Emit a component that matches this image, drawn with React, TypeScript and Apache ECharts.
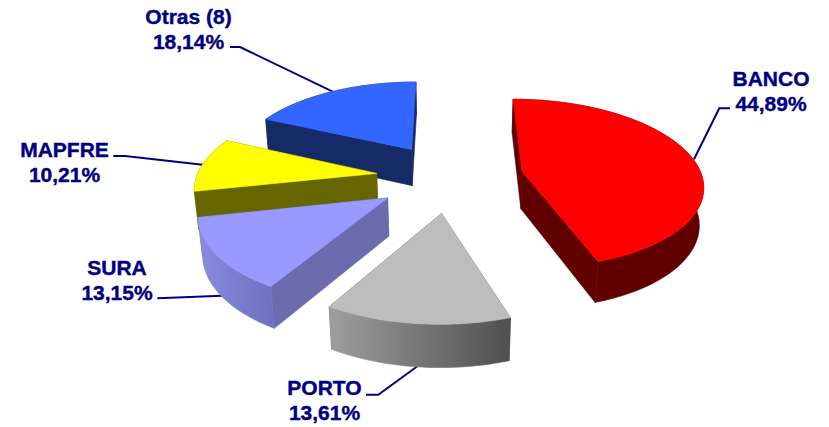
import React, { useEffect, useRef } from "react";
import * as echarts from "echarts";

const categories = ["BANCO", "PORTO", "SURA", "MAPFRE", "Otras (8)"];
const shares = [44.89, 13.61, 13.15, 10.21, 18.14];
const total = shares.reduce((a, b) => a + b, 0);

// Camera and pie solid
const CX = 450.35, CY = 171.62, FOCAL = 1142.49, DIST = 6.4074, PITCH = 0.4803;
const START = -0.0016, DEPTH = 0.2393, OX = -0.0034, OY = -0.066, EXPLODE = 0.411;

const tops = ["#ff0000", "#bdbdbd", "#9999ff", "#ffff00", "#3366ff"];
const cuts = ["#600000", "#666666", "#6b6bad", "#666600", "#152a66"];
const arcsL = ["#600000", "#9e9e9e", "#8a8ae0", "#666600", "#152a66"];
const arcsR = ["#600000", "#4f4f4f", "#7070c0", "#666600", "#152a66"];

const NAVY = "#000080";
const labelAt = [[771, 90.5], [324.5, 400], [117, 279.5], [64.5, 161.5], [188.5, 29]];
const leaders = [
  [[694, 159.3], [719.3, 108.3], [730, 108.3]],
  [[366, 394.7], [378.3, 394.7], [417.7, 366]],
  [[157.3, 298.3], [222, 295.7]],
  [[113.3, 156], [125, 156], [202.7, 164.7]],
  [[230, 47], [240, 47], [332.7, 91.7]],
];

function proj(X: number, Y: number, Z: number) {
  const x = X + OX, y = Y + OY;
  const yc = y * Math.sin(PITCH) + Z * Math.cos(PITCH);
  const zc = DIST + y * Math.cos(PITCH) - Z * Math.sin(PITCH);
  return [CX + (FOCAL * x) / zc, CY - (FOCAL * yc) / zc];
}
function sliceGeom(i: number) {
  let c = 0;
  for (let k = 0; k < i; k++) c += shares[k];
  const a = START + (c / total) * 2 * Math.PI;
  const b = a + (shares[i] / total) * 2 * Math.PI;
  const m = (a + b) / 2;
  return { a, b, ax: EXPLODE * Math.sin(m), ay: EXPLODE * Math.cos(m) };
}
const pct = (v: number) => v.toFixed(2).replace(".", ",") + "%";

export default function App() {
  const ref = useRef<HTMLDivElement>(null);
  useEffect(() => {
    document.body.style.margin = "0";
    const chart = echarts.init(ref.current!, undefined, { renderer: "svg" });
    const paint = (fill: any) => ({ fill, stroke: fill, lineWidth: 0.6 });
    chart.setOption({
      animation: false,
      graphic: [
        ...leaders.map((pts) => ({
          type: "polyline", z: 1, shape: { points: pts },
          style: { stroke: NAVY, lineWidth: 2, fill: "none" },
        })),
        ...categories.map((c, i) => ({
          type: "text", z: 3, x: labelAt[i][0], y: labelAt[i][1],
          style: {
            text: c + "\n" + pct(shares[i]), fill: NAVY, align: "center", verticalAlign: "middle",
            stroke: NAVY, lineWidth: 0.4,
            font: 'bold 21px "Liberation Sans", Arial, sans-serif', lineHeight: 25,
          },
        })),
      ],
      series: [{
        type: "custom", coordinateSystem: "none", z: 2,
        data: [4, 3, 2, 1, 0],
        renderItem: (_p: any, api: any) => {
          const i = api.value(0);
          const g = sliceGeom(i);
          const arc = (z: number) => {
            const o = [];
            for (let k = 0; k <= 48; k++) {
              const t = g.a + ((g.b - g.a) * k) / 48;
              o.push(proj(g.ax + Math.sin(t), g.ay + Math.cos(t), z));
            }
            return o;
          };
          const t0 = arc(0), b0 = arc(-DEPTH);
          const A0 = proj(g.ax, g.ay, 0), A1 = proj(g.ax, g.ay, -DEPTH);
          const grad = new echarts.graphic.LinearGradient(0, 0, 1, 0, [
            { offset: 0, color: arcsL[i] }, { offset: 1, color: arcsR[i] },
          ]);
          return {
            type: "group",
            children: [
              { type: "polygon", shape: { points: [A0, t0[0], b0[0], A1] }, style: paint(cuts[i]) },
              { type: "polygon", shape: { points: [A0, t0[48], b0[48], A1] }, style: paint(cuts[i]) },
              { type: "polygon", shape: { points: [...t0, ...b0.slice().reverse()] }, style: paint(grad) },
              { type: "polygon", shape: { points: [A0, ...t0] }, style: paint(tops[i]) },
            ],
          };
        },
      }],
    });
    return () => chart.dispose();
  }, []);
  return <div ref={ref} style={{ width: 829, height: 427 }} />;
}
